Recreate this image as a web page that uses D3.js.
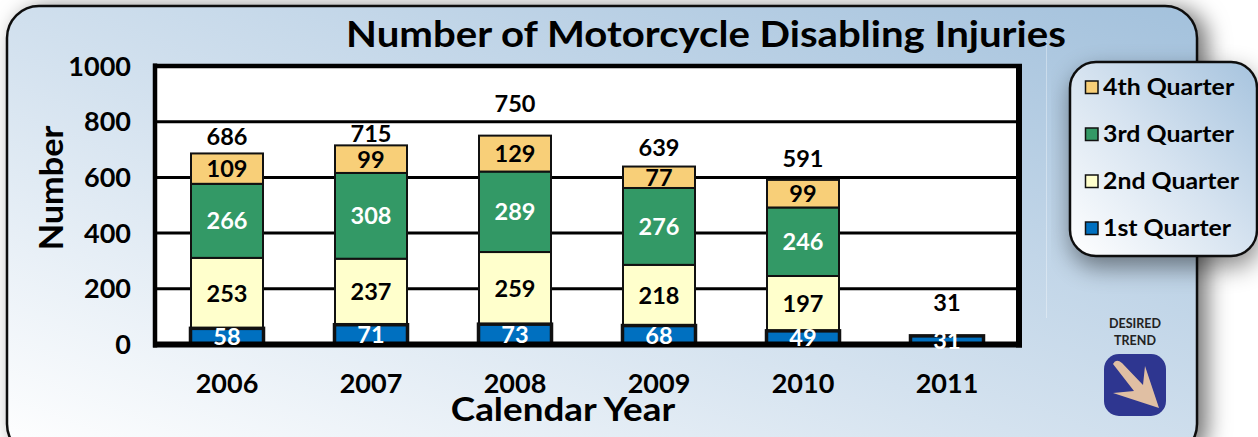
<!DOCTYPE html>
<html><head><meta charset="utf-8">
<script src="https://cdn.jsdelivr.net/npm/d3@7/dist/d3.min.js"></script>
<style>
html,body{margin:0;padding:0;background:#fff;overflow:hidden}
svg{display:block}
text{font-family:"Lato","Open Sans",sans-serif;font-weight:700;fill:#000}
</style></head><body>
<svg id="c" width="1258" height="437"></svg>
<script>
const years = ["2006","2007","2008","2009","2010","2011"];
const q1 = [58,71,73,68,49,31];
const q2 = [253,237,259,218,197,0];
const q3 = [266,308,289,276,246,0];
const q4 = [109,99,129,77,99,0];
const totals = [686,715,750,639,591,31];
const yTicks = [0,200,400,600,800,1000];
const seriesNames = ["1st Quarter","2nd Quarter","3rd Quarter","4th Quarter"];
const seriesColors = ["#0070c0","#ffffcc","#339966","#f8cf78"];
const labelColors = ["#fff","#000","#fff","#000"];
const chartTitle = "Number of Motorcycle Disabling Injuries";
const xTitle = "Calendar Year";
const yTitle = "Number";
const totalLift = [16,11,32,19,21,33];

const svg = d3.select("#c");
const defs = svg.append("defs");
const mkGrad = (id, stops) => {
  const g = defs.append("linearGradient").attr("id", id)
    .attr("x1","0%").attr("y1","100%").attr("x2","100%").attr("y2","0%");
  stops.forEach(s => g.append("stop").attr("offset", s[0]).attr("stop-color", s[1]));
};
mkGrad("cardG", [[0,"#ffffff"],[0.45,"#d4e2ef"],[1,"#a3c1dc"]]);
mkGrad("legG", [[0,"#ffffff"],[0.5,"#d6e3f0"],[1,"#a6c3de"]]);
const shadow = (id, dx, dy, sd, op) => {
  const f = defs.append("filter").attr("id", id)
    .attr("x","-10%").attr("y","-20%").attr("width","125%").attr("height","145%");
  f.append("feDropShadow").attr("dx",dx).attr("dy",dy).attr("stdDeviation",sd)
    .attr("flood-color","#000").attr("flood-opacity",op);
};
shadow("cardS", 9, 3, 11, 0.55);
shadow("legS", 2, 10, 12, 0.45);
// widen Lato horizontally to match the geometric face of the reference
const stretch = (sel, k) => sel.each(function(){
  const len = this.getComputedTextLength();
  d3.select(this).attr("textLength", len*k).attr("lengthAdjust","spacingAndGlyphs");
});

// Card
svg.append("rect").attr("x",7).attr("y",6).attr("width",1190).attr("height",450)
  .attr("rx",32).attr("fill","url(#cardG)").attr("stroke","#111").attr("stroke-width",2.5)
  .attr("filter","url(#cardS)");
svg.append("line").attr("x1",1046.5).attr("x2",1046.5).attr("y1",40).attr("y2",318)
  .attr("stroke","#fff").attr("stroke-opacity",0.35);

// Scales
const x = d3.scaleBand().domain(years).range([155,1019]).paddingInner(0.5).paddingOuter(0.25);
const y = d3.scaleLinear().domain([0,1000]).range([344.5,66]);

// Plot background
svg.append("rect").attr("x",x.range()[0]).attr("y",y(1000))
  .attr("width",x.range()[1]-x.range()[0]).attr("height",y(0)-y(1000)).attr("fill","#fff");

// Gridlines
svg.append("g").selectAll("line").data(yTicks.filter(t => t>0 && t<1000)).join("line")
  .attr("x1",x.range()[0]).attr("x2",x.range()[1]).attr("y1",d=>y(d)).attr("y2",d=>y(d))
  .attr("stroke","#000").attr("stroke-width",3);

// Stacks
const rows = years.map((yr,i)=>({yr, s0:q1[i], s1:q2[i], s2:q3[i], s3:q4[i]}));
const stack = d3.stack().keys(["s0","s1","s2","s3"])(rows);
stack.slice(1).forEach((layer,j)=>{
  svg.append("g").selectAll("rect").data(layer.filter(d=>d[1]>d[0])).join("rect")
    .attr("x",d=>x(d.data.yr)).attr("width",x.bandwidth())
    .attr("y",d=>y(d[1])).attr("height",d=>y(d[0])-y(d[1]))
    .attr("fill",seriesColors[j+1]).attr("stroke","#111").attr("stroke-width",2);
});
svg.append("g").selectAll("rect").data(stack[0]).join("rect")
  .attr("x",d=>x(d.data.yr)-0.5).attr("width",x.bandwidth()+1)
  .attr("y",d=>y(d[1])).attr("height",d=>y(d[0])-y(d[1]))
  .attr("fill",seriesColors[0]).attr("stroke","#111").attr("stroke-width",3.5);

// Frame
const frame = svg.append("g").attr("fill","none").attr("stroke","#000");
frame.append("line").attr("x1",155).attr("x2",155).attr("y1",y(1000)-2.5).attr("y2",y(0)+3).attr("stroke-width",4.5);
frame.append("line").attr("x1",153).attr("x2",x.range()[1]+3).attr("y1",y(1000)).attr("y2",y(1000)).attr("stroke-width",4.5);
frame.append("line").attr("x1",153).attr("x2",x.range()[1]+3).attr("y1",y(0)).attr("y2",y(0)).attr("stroke-width",6);
frame.append("line").attr("x1",x.range()[1]).attr("x2",x.range()[1]).attr("y1",y(1000)-2).attr("y2",y(0)+3).attr("stroke-width",6);

// Segment labels sit above the frame, as in the reference
stack.forEach((layer,k)=>{
  svg.append("g").selectAll("text").data(layer.filter(d=>d[1]>d[0])).join("text")
    .attr("x",d=>x(d.data.yr)+x.bandwidth()/2)
    .attr("y",d=>(y(d[0])+y(d[1]))/2+8.5)
    .attr("text-anchor","middle").attr("font-size",23.5)
    .style("fill",labelColors[k])
    .text(d=>d[1]-d[0]);
});
// Totals
svg.append("g").selectAll("text").data(years).join("text")
  .attr("x",d=>x(d)+x.bandwidth()/2)
  .attr("y",(d,i)=>y(totals[i])-totalLift[i]+8)
  .attr("text-anchor","middle").attr("font-size",23.5)
  .text((d,i)=>totals[i]);

// Y ticks
svg.append("g").selectAll("text").data(yTicks).join("text")
  .attr("x",131).attr("y",d=>y(d)+9.5).attr("text-anchor","end").attr("font-size",27)
  .text(d=>d);
// X ticks
svg.append("g").selectAll("text").data(years).join("text")
  .attr("x",d=>x(d)+x.bandwidth()/2).attr("y",393).attr("text-anchor","middle").attr("font-size",27)
  .text(d=>d);

// Titles
svg.append("text").attr("x",706).attr("y",47).attr("text-anchor","middle").attr("font-size",37).call(stretch,1.085).text(chartTitle).call(stretch,1.085);
svg.append("text").attr("x",563).attr("y",421).attr("text-anchor","middle").attr("font-size",32).text(xTitle).call(stretch,1.15);
svg.append("text").attr("transform","translate(63,188) rotate(-90)").attr("text-anchor","middle").attr("font-size",32).text(yTitle).call(stretch,1.07);

// Legend
const lg = svg.append("g");
lg.append("rect").attr("x",1070).attr("y",62).attr("width",187).attr("height",194).attr("rx",26)
  .attr("fill","url(#legG)").attr("stroke","#111").attr("stroke-width",2.5).attr("filter","url(#legS)");
const legendY = d3.scalePoint().domain(seriesNames.slice().reverse()).range([87,228]);
seriesNames.forEach((n,k)=>{
  lg.append("rect").attr("x",1085.5).attr("y",legendY(n)-6).attr("width",12.5).attr("height",12.5)
    .attr("fill",seriesColors[k]).attr("stroke","#111").attr("stroke-width",1.5);
  lg.append("text").attr("x",1103).attr("y",legendY(n)+8).attr("font-size",23).text(n).call(stretch,1.08);
});

// Desired trend badge
const b = svg.append("g");
b.append("text").attr("x",1135).attr("y",328).attr("text-anchor","middle").attr("font-size",12.5).style("fill","#222").text("DESIRED");
b.append("text").attr("x",1135).attr("y",345).attr("text-anchor","middle").attr("font-size",12.5).style("fill","#222").text("TREND");
b.append("rect").attr("x",1104).attr("y",354).attr("width",62).attr("height",62).attr("rx",15).attr("fill","#2e3690");
b.append("path").attr("d","M1113,364 Q1116,358 1122,363 L1143,385 L1145,366 L1159,408 L1113,393 L1134,391 Z")
  .attr("fill","#e0bfa3");
</script>
</body></html>
